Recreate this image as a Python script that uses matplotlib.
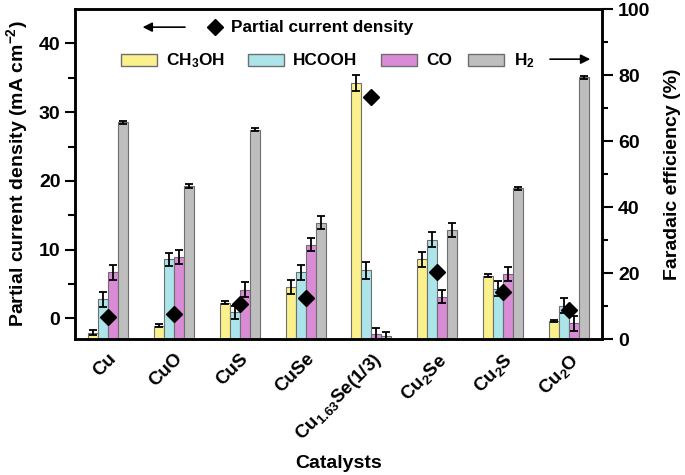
import numpy as np
import matplotlib
matplotlib.use('Agg')
import matplotlib.pyplot as plt
from matplotlib.patches import Rectangle

plt.rcParams['font.family'] = 'Liberation Sans'
plt.rcParams['font.weight'] = 'bold'
plt.rcParams['axes.labelweight'] = 'bold'
plt.rcParams['mathtext.fontset'] = 'custom'
plt.rcParams['mathtext.rm'] = 'Liberation Sans:bold'
plt.rcParams['mathtext.bf'] = 'Liberation Sans:bold'
plt.rcParams['mathtext.default'] = 'rm'

# Datos
catalizadores = ['Cu', 'CuO', 'CuS', 'CuSe', 'Cu$_{1.63}$Se(1/3)', 'Cu$_2$Se', 'Cu$_2$S', 'Cu$_2$O']

# Eficiencia faradaica (%)
fe_ch3oh = [1.9, 4.0, 11.0, 15.8, 77.6, 24.1, 19.2, 5.5]
fe_hcooh = [12.0, 24.1, 8.1, 20.2, 20.8, 30.1, 15.3, 10.1]
fe_co = [20.2, 24.9, 15.0, 28.6, 1.5, 12.8, 19.8, 4.7]
fe_h2 = [65.7, 46.5, 63.4, 35.2, 1.0, 33.1, 45.7, 79.3]

err_ch3oh = [0.8, 0.5, 0.5, 2.2, 2.3, 2.3, 0.5, 0.4]
err_hcooh = [2.2, 2.0, 2.0, 2.3, 2.5, 2.2, 2.2, 2.3]
err_co = [2.2, 2.2, 2.2, 2.0, 1.9, 1.9, 2.1, 2.2]
err_h2 = [0.5, 0.6, 0.5, 2.0, 1.0, 2.2, 0.5, 0.4]

# Densidad de corriente parcial (mA cm-2)
densidad = [0.2, 0.7, 2.1, 3.0, 32.2, 6.7, 3.8, 1.2]

colores = ['#FAF08C', '#ABE4E9', '#D98BD6', '#BEBEBE']
series = [fe_ch3oh, fe_hcooh, fe_co, fe_h2]
errores = [err_ch3oh, err_hcooh, err_co, err_h2]
nombres = ['CH$_3$OH', 'HCOOH', 'CO', 'H$_2$']

fig = plt.figure(figsize=(6.85, 4.75), dpi=100)
ax = fig.add_axes([75/685, 1-339/475, 527/685, 330/475])
ax2 = ax.twinx()

x = np.arange(len(catalizadores))
w = 0.152
for k in range(4):
    ax2.bar(x + (k - 1.5) * w, series[k], w, color=colores[k], edgecolor='#6E6E6E',
            linewidth=0.8, zorder=2)
    ax2.errorbar(x + (k - 1.5) * w, series[k], yerr=errores[k], fmt='none',
                 ecolor='k', elinewidth=1.3, capsize=3.2, capthick=1.3, zorder=3)

ax.plot(x, densidad, 'D', color='k', markersize=8, zorder=5)

ax.set_zorder(ax2.get_zorder() + 1)
ax.patch.set_visible(False)

ax.set_xlim(-0.5, 7.5)
ax.set_ylim(-3, 45)
ax2.set_ylim(0, 100)
ax.set_yticks([0, 10, 20, 30, 40])
ax.set_yticks(np.arange(-0, 45, 5), minor=True)
ax2.set_yticks([0, 20, 40, 60, 80, 100])
ax2.set_yticks([10, 30, 50, 70, 90], minor=True)

ax.set_xticks(x)
ax.set_xticklabels(catalizadores, rotation=45, ha='right', rotation_mode='anchor', fontsize=13.5)
ax.tick_params(axis='x', length=0, pad=8)
ax.tick_params(axis='y', which='major', length=7, width=1.5, labelsize=14)
ax.tick_params(axis='y', which='minor', length=5, width=1.5)
ax2.tick_params(axis='y', which='major', length=8, width=1.5, labelsize=14)
ax2.tick_params(axis='y', which='minor', length=4, width=1.5)

for a in (ax, ax2):
    for s in a.spines.values():
        s.set_linewidth(1.8)

ax.set_ylabel('Partial current density (mA cm$^{-2}$)', fontsize=14, labelpad=6)
ax2.set_ylabel('Faradaic efficiency (%)', fontsize=14, labelpad=10)
ax.set_xlabel('Catalysts', fontsize=14)
ax.xaxis.set_label_coords(0.5, -0.352)

# Leyenda dibujada a mano
t = ax2.transAxes
ax2.annotate('', xy=(0.123, 0.945), xytext=(0.214, 0.945), xycoords=t,
             arrowprops=dict(arrowstyle='-|>', color='k', lw=1.2, mutation_scale=14))
ax2.plot([0.266], [0.945], 'D', color='k', markersize=8, transform=t, clip_on=False)
ax2.text(0.296, 0.945, 'Partial current density', transform=t, fontsize=12.4,
         ha='left', va='center')

px = [0.087, 0.328, 0.581, 0.746]
tx = [0.173, 0.414, 0.666, 0.833]
for k in range(4):
    ax2.add_patch(Rectangle((px[k], 0.826), 0.068, 0.039, transform=t, facecolor=colores[k],
                            edgecolor='#6E6E6E', linewidth=1.0, clip_on=False))
    ax2.text(tx[k], 0.845, nombres[k], transform=t, fontsize=12.4, ha='left', va='center')
ax2.annotate('', xy=(0.983, 0.848), xytext=(0.896, 0.848), xycoords=t,
             arrowprops=dict(arrowstyle='-|>', color='k', lw=1.2, mutation_scale=14))

fig.savefig('out.png', dpi=100)
